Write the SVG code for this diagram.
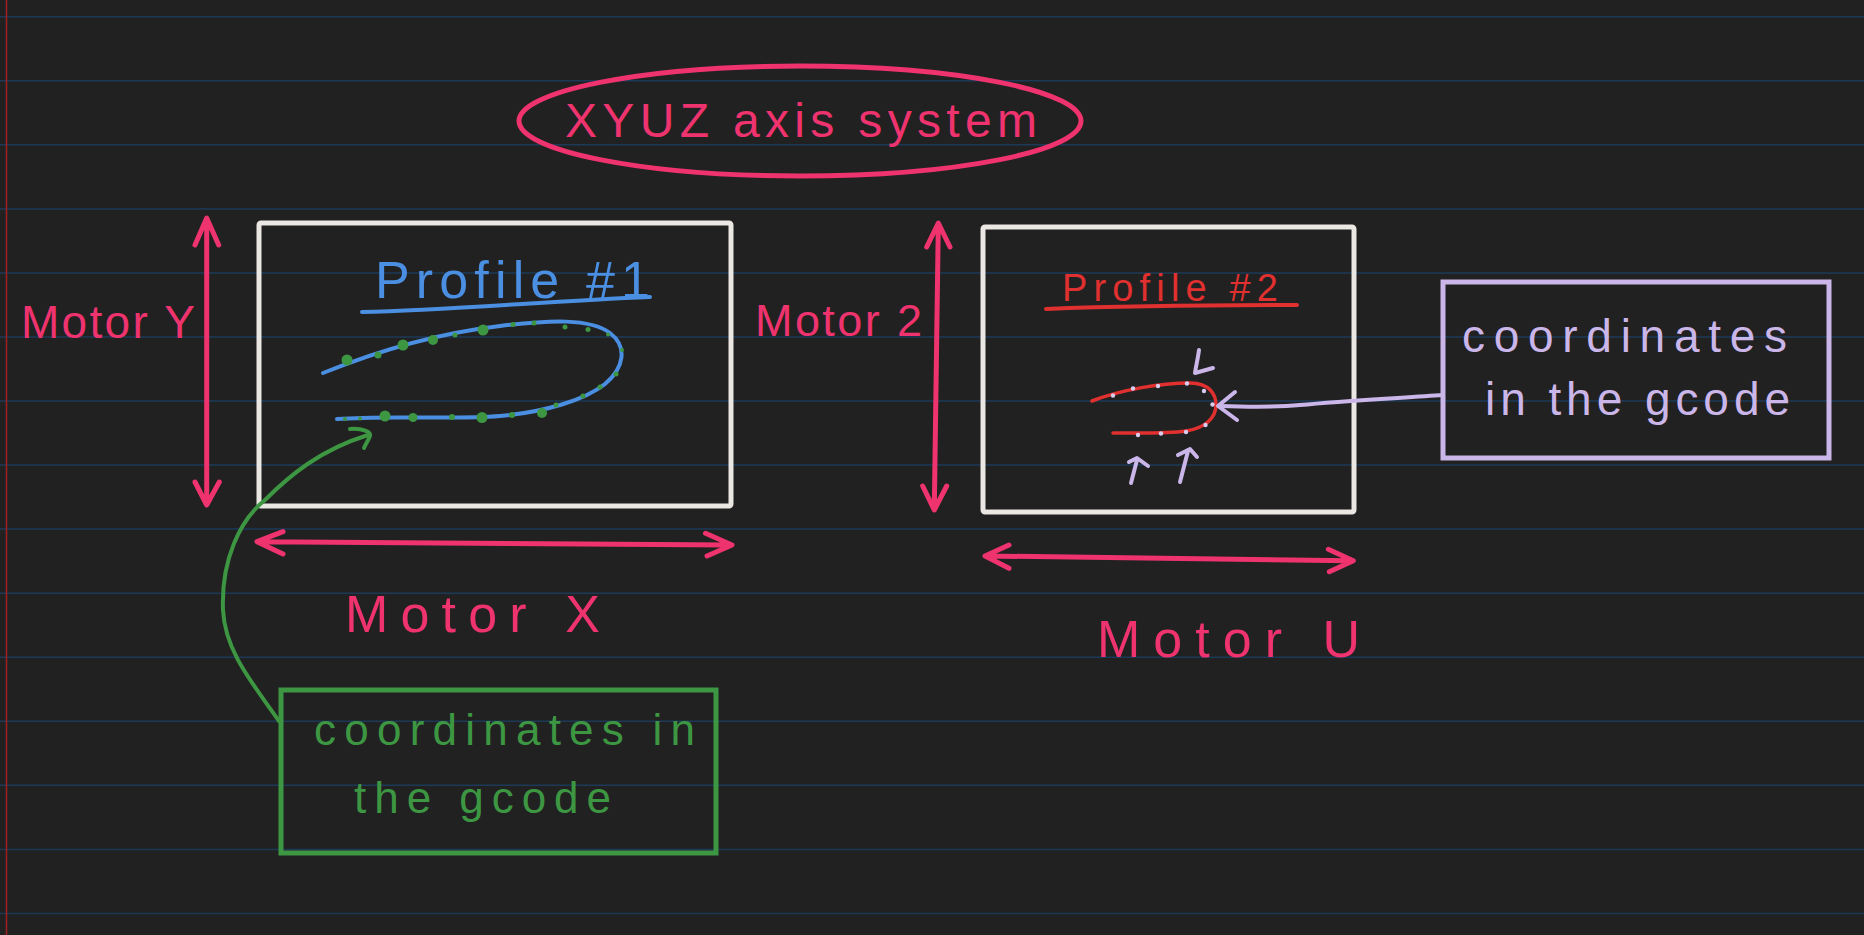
<svg xmlns="http://www.w3.org/2000/svg" width="1864" height="935" viewBox="0 0 1864 935">
<style>
  .rule { stroke: #1c3a57; stroke-width: 1.5; }
  .pink { fill: none; stroke: #ee336f; stroke-width: 5; stroke-linecap: round; stroke-linejoin: round; }
  .box { fill: none; stroke: #ebe8e4; stroke-width: 5; }
  .hand { font-family: "Liberation Sans", Arial, sans-serif; }
  .tpink { fill: #ee336f; }
  .lav { fill: none; stroke: #cbb6ea; stroke-width: 4; stroke-linecap: round; stroke-linejoin: round; }
  .grn { fill: none; stroke: #3d9642; stroke-width: 4; stroke-linecap: round; stroke-linejoin: round; }
  .gdot { fill: #3d9642; }
  .ldot { fill: #d8ccf0; }
</style>
<rect x="0" y="0" width="1864" height="935" fill="#212121"/>
<g id="paper">
  <line class="rule" x1="0" y1="16.7" x2="1864" y2="16.7"/>
  <line class="rule" x1="0" y1="80.8" x2="1864" y2="80.8"/>
  <line class="rule" x1="0" y1="144.8" x2="1864" y2="144.8"/>
  <line class="rule" x1="0" y1="208.9" x2="1864" y2="208.9"/>
  <line class="rule" x1="0" y1="272.9" x2="1864" y2="272.9"/>
  <line class="rule" x1="0" y1="337" x2="1864" y2="337"/>
  <line class="rule" x1="0" y1="401" x2="1864" y2="401"/>
  <line class="rule" x1="0" y1="465" x2="1864" y2="465"/>
  <line class="rule" x1="0" y1="529.1" x2="1864" y2="529.1"/>
  <line class="rule" x1="0" y1="593.2" x2="1864" y2="593.2"/>
  <line class="rule" x1="0" y1="657.2" x2="1864" y2="657.2"/>
  <line class="rule" x1="0" y1="721.3" x2="1864" y2="721.3"/>
  <line class="rule" x1="0" y1="785.3" x2="1864" y2="785.3"/>
  <line class="rule" x1="0" y1="849.4" x2="1864" y2="849.4"/>
  <line class="rule" x1="0" y1="913.4" x2="1864" y2="913.4"/>
  <line x1="6.5" y1="0" x2="6.5" y2="935" stroke="#9e2020" stroke-width="1.5"/>
</g>

<g id="title">
  <ellipse class="pink" cx="800" cy="121" rx="281" ry="55"/>
  <text class="hand tpink" x="565" y="137" font-size="48" textLength="472" lengthAdjust="spacing">XYUZ axis system</text>
</g>

<g id="profile1-frame">
  <rect class="box" x="259" y="223" width="472" height="283" rx="2"/>
  <text class="hand" fill="#4b8fe2" x="375" y="298" font-size="52" textLength="275" lengthAdjust="spacing">Profile #1</text>
  <path d="M362,312 C450,310 550,301 650,297" fill="none" stroke="#4b8fe2" stroke-width="4" stroke-linecap="round"/>
  <path d="M323,373 C380,350 440,333 500,326 C550,320 590,318 610,333 C628,347 624,368 605,384 C585,400 545,412 500,416 C450,420 390,415 337,419" fill="none" stroke="#4b8fe2" stroke-width="4" stroke-linecap="round"/>
  <g id="profile1-points">
    <circle class="gdot" cx="347" cy="360" r="5.5"/>
    <circle class="gdot" cx="378" cy="355" r="3.5"/>
    <circle class="gdot" cx="403" cy="345" r="5.5"/>
    <circle class="gdot" cx="433" cy="340" r="5"/>
    <circle class="gdot" cx="455" cy="335" r="2.5"/>
    <circle class="gdot" cx="483" cy="330" r="5.5"/>
    <circle class="gdot" cx="513" cy="324.5" r="2.5"/>
    <circle class="gdot" cx="534" cy="323" r="2.5"/>
    <circle class="gdot" cx="565" cy="327" r="2.5"/>
    <circle class="gdot" cx="588" cy="329.5" r="2.5"/>
    <circle class="gdot" cx="608" cy="334.5" r="2"/>
    <circle class="gdot" cx="622" cy="350" r="2"/>
    <circle class="gdot" cx="616" cy="374" r="2.5"/>
    <circle class="gdot" cx="600" cy="387" r="2.5"/>
    <circle class="gdot" cx="583" cy="396" r="2.5"/>
    <circle class="gdot" cx="556" cy="405" r="2.5"/>
    <circle class="gdot" cx="542" cy="413" r="5"/>
    <circle class="gdot" cx="512" cy="415" r="3"/>
    <circle class="gdot" cx="482" cy="417.5" r="5.5"/>
    <circle class="gdot" cx="452" cy="417" r="3"/>
    <circle class="gdot" cx="413" cy="417.5" r="4.5"/>
    <circle class="gdot" cx="385" cy="416" r="5.5"/>
    <circle class="gdot" cx="360" cy="418.5" r="2"/>
    <circle class="gdot" cx="345" cy="419" r="2"/>
  </g>
</g>

<g id="profile2-frame">
  <rect class="box" x="983" y="227" width="371" height="285" rx="2"/>
  <text class="hand" fill="#e0302f" x="1062" y="301" font-size="38" textLength="216" lengthAdjust="spacing">Profile #2</text>
  <path d="M1046,309 C1120,306 1220,305 1297,305" fill="none" stroke="#e0302f" stroke-width="4" stroke-linecap="round"/>
  <path d="M1092,401 C1120,390 1160,383 1190,383 C1210,383 1216,395 1216,405 C1216,418 1205,428 1186,431 C1165,434 1135,433 1113,433" fill="none" stroke="#e0302f" stroke-width="3.5" stroke-linecap="round"/>
  <g id="profile2-points">
    <circle class="ldot" cx="1113" cy="395.5" r="2.2"/>
    <circle class="ldot" cx="1133" cy="388.5" r="2.2"/>
    <circle class="ldot" cx="1158" cy="386" r="2.2"/>
    <circle class="ldot" cx="1187" cy="383.5" r="2.2"/>
    <circle class="ldot" cx="1204" cy="391" r="2.2"/>
    <circle class="ldot" cx="1212.5" cy="404.5" r="2.2"/>
    <circle class="ldot" cx="1205.5" cy="425" r="2.2"/>
    <circle class="ldot" cx="1186" cy="432" r="2.2"/>
    <circle class="ldot" cx="1161" cy="433.5" r="2.2"/>
    <circle class="ldot" cx="1138" cy="435" r="2.2"/>
  </g>
  <g id="profile2-pointers">
    <path class="lav" d="M1199,350 C1198,358 1196,366 1195,373 L1213,368" stroke-width="5"/>
    <path class="lav" d="M1131,483 L1137,460 M1129,462 L1137,458 L1148,466" stroke-width="5"/>
    <path class="lav" d="M1180,482 L1188,451 M1178,455 L1190,449 L1197,457" stroke-width="5"/>
  </g>
</g>

<g id="motor-y">
  <text class="hand tpink" x="21" y="338" font-size="46" textLength="174" lengthAdjust="spacing">Motor Y</text>
</g>
<g id="motor-z">
  <text class="hand tpink" x="755" y="336" font-size="45" textLength="167" lengthAdjust="spacing">Motor 2</text>
</g>
<g id="motor-x">
  <text class="hand tpink" x="345" y="632" font-size="52" textLength="255" lengthAdjust="spacing">Motor X</text>
</g>
<g id="motor-u">
  <text class="hand tpink" x="1097" y="657" font-size="52" textLength="263" lengthAdjust="spacing">Motor U</text>
</g>

<g id="note-gcode-1">
  <rect x="281" y="690" width="435" height="163" fill="none" stroke="#3d9642" stroke-width="5"/>
  <text class="hand" fill="#3d9642" x="314" y="745" font-size="44" textLength="381" lengthAdjust="spacing">coordinates in</text>
  <text class="hand" fill="#3d9642" x="354" y="813" font-size="44" textLength="257" lengthAdjust="spacing">the gcode</text>
</g>

<g id="note-gcode-2">
  <rect x="1443" y="282" width="386" height="176" fill="none" stroke="#cbb6ea" stroke-width="5"/>
  <text class="hand" fill="#cbb6ea" x="1462" y="352" font-size="46" textLength="325" lengthAdjust="spacing">coordinates</text>
  <text class="hand" fill="#cbb6ea" x="1485" y="415" font-size="46" textLength="305" lengthAdjust="spacing">in the gcode</text>
</g>

<g id="connectors">
  <path class="pink" d="M206.7,220 L206.7,503 M195,245 L206.7,218 L218.7,245 M195,482 L206.7,505 L219.3,482"/>
  <path class="pink" d="M938.3,225 L934.3,508 M926.7,247 L938.3,223 L950,247 M922.7,486 L934.3,510 L946.7,486"/>
  <path class="pink" d="M259,541.7 L730,545 M283,531.7 L257,541.7 L283,554 M705.5,533.3 L732,545 L707,556"/>
  <path class="pink" d="M987,556 L1351,560.7 M1009,545 L985,556 L1009,568.3 M1328.3,549.3 L1353.3,560.7 L1329.3,571.7"/>
  <path class="grn" d="M279,721 C250,680 225,650 223,610 C221,560 240,520 265,500 C290,475 320,450 368,435"/>
  <path class="grn" d="M350,429 C362,428 372,432 370,436 C368,441 365,445 364,448" stroke-width="5"/>
  <path class="lav" d="M1443,395 C1400,398 1340,401 1300,405 C1280,407 1250,407 1220,406"/>
  <path class="lav" d="M1235,392 L1218,406 L1237,420" stroke-width="6"/>
</g>
</svg>
